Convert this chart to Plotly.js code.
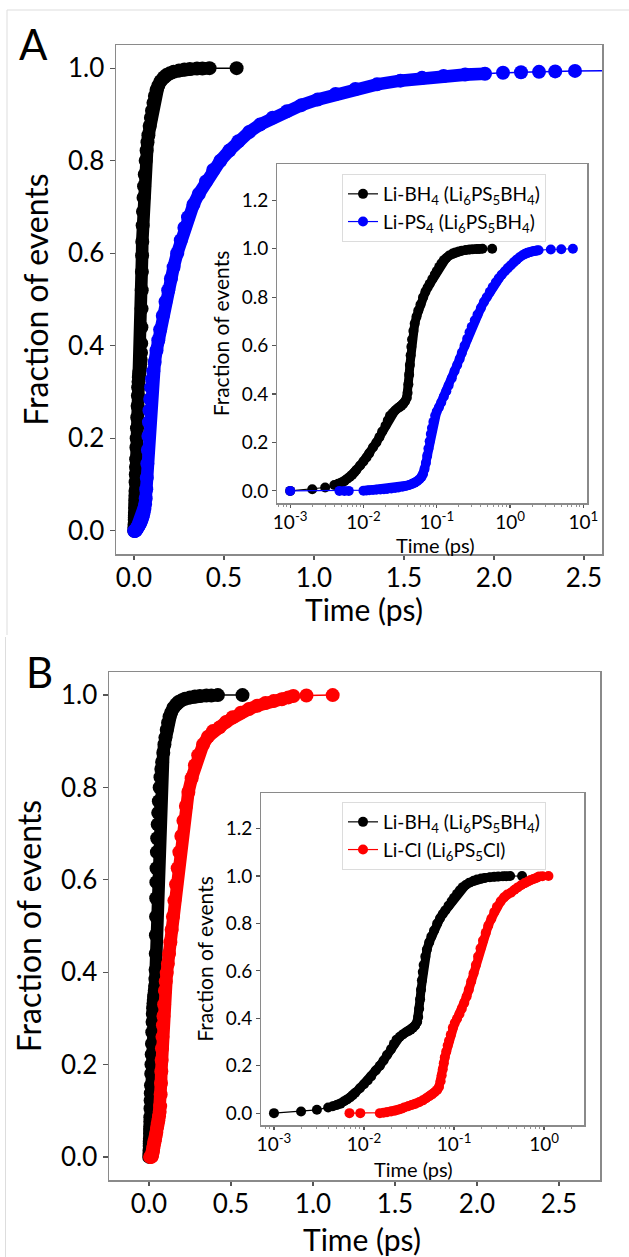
<!DOCTYPE html>
<html><head><meta charset="utf-8">
<script src="https://cdn.plot.ly/plotly-3.0.1.min.js"></script>
<style>html,body{margin:0;padding:0;background:#fff}#chart{width:629px;height:1257px}</style>
</head><body><div id="chart"></div>
<script>
// ---- data (time in ps, cumulative fraction of events) ----
const blackT = [0.001,0.002,0.003,0.004,0.0045,0.005,0.0055,0.006,0.0065,0.007,0.0075,0.008,0.009,0.010,0.011,0.012,0.0135,0.015,0.0165,0.018,0.020,0.0215,0.023,0.025,0.027,0.029,0.031,0.033,0.035,0.037,0.039,0.040,0.041,0.042,0.043,0.044,0.045,0.046,0.048,0.050,0.053,0.056,0.060,0.065,0.070,0.075,0.080,0.087,0.094,0.100,0.108,0.116,0.125,0.135,0.148,0.165,0.18,0.20,0.22,0.25,0.28,0.31,0.35,0.38,0.42,0.57];
const blackF = [0.0,0.007,0.014,0.024,0.029,0.034,0.040,0.050,0.058,0.066,0.076,0.086,0.105,0.122,0.138,0.155,0.180,0.200,0.222,0.245,0.270,0.292,0.310,0.322,0.332,0.340,0.346,0.352,0.360,0.370,0.385,0.405,0.440,0.480,0.520,0.560,0.595,0.625,0.660,0.690,0.720,0.745,0.770,0.800,0.822,0.840,0.855,0.875,0.893,0.908,0.925,0.940,0.953,0.962,0.972,0.980,0.985,0.989,0.992,0.995,0.997,0.998,0.999,0.999,1.0,1.0];

const blueT = [0.001,0.0047,0.0055,0.0063,0.0100,0.0110,0.0120,0.0135,0.015,0.017,0.019,0.021,0.024,0.027,0.030,0.034,0.038,0.042,0.046,0.050,0.054,0.058,0.062,0.065,0.068,0.071,0.074,0.077,0.080,0.083,0.086,0.090,0.095,0.100,0.107,0.115,0.125,0.135,0.145,0.16,0.175,0.19,0.205,0.22,0.24,0.26,0.28,0.30,0.33,0.36,0.40,0.44,0.48,0.53,0.58,0.64,0.70,0.77,0.85,0.93,1.02,1.12,1.23,1.35,1.48,1.60,1.72,1.84,1.95,2.05,2.15,2.25,2.34,2.45,3.6,5.0,7.2];
const blueF = [0.0,0.0,0.0,0.0,0.001,0.002,0.003,0.004,0.005,0.006,0.007,0.008,0.010,0.012,0.014,0.017,0.020,0.024,0.029,0.034,0.040,0.048,0.058,0.070,0.090,0.115,0.145,0.175,0.205,0.235,0.260,0.285,0.310,0.328,0.345,0.365,0.390,0.412,0.435,0.465,0.495,0.520,0.545,0.570,0.600,0.628,0.655,0.678,0.705,0.728,0.755,0.780,0.800,0.822,0.842,0.862,0.878,0.893,0.907,0.920,0.932,0.944,0.955,0.965,0.973,0.979,0.983,0.986,0.988,0.990,0.991,0.992,0.993,0.994,0.997,0.998,1.0];

const redT = [0.0069,0.0091,0.0150,0.0165,0.018,0.020,0.022,0.024,0.026,0.028,0.031,0.034,0.037,0.041,0.045,0.049,0.053,0.057,0.061,0.065,0.068,0.071,0.073,0.075,0.077,0.079,0.082,0.085,0.088,0.092,0.097,0.102,0.108,0.115,0.122,0.130,0.138,0.146,0.155,0.165,0.175,0.185,0.197,0.21,0.225,0.24,0.26,0.28,0.30,0.33,0.36,0.39,0.43,0.47,0.51,0.56,0.61,0.66,0.71,0.76,0.81,0.85,0.88,0.96,1.12];
const redF = [0.0,0.0,0.0,0.002,0.004,0.007,0.010,0.014,0.019,0.024,0.029,0.034,0.039,0.046,0.054,0.063,0.071,0.079,0.088,0.098,0.110,0.135,0.160,0.185,0.210,0.235,0.260,0.285,0.305,0.330,0.360,0.380,0.398,0.418,0.440,0.465,0.492,0.520,0.555,0.590,0.625,0.660,0.695,0.728,0.760,0.790,0.820,0.848,0.870,0.893,0.910,0.922,0.930,0.942,0.952,0.962,0.970,0.977,0.983,0.987,0.991,0.995,0.998,0.999,1.0];

const mainYTicks = [0,0.2,0.4,0.6,0.8,1.0];
const mainYTickText = ['0.0','0.2','0.4','0.6','0.8','1.0'];
const mainXTicks = [0,0.5,1,1.5,2,2.5];
const mainXTickText = ['0.0','0.5','1.0','1.5','2.0','2.5'];
const insetYTicks = [0,0.2,0.4,0.6,0.8,1.0,1.2];
const insetYTickText = ['0.0','0.2','0.4','0.6','0.8','1.0','1.2'];
const insetXTicksA = [0.001,0.01,0.1,1,10];
const insetXTickTextA = ['10<sup>-3</sup>','10<sup>-2</sup>','10<sup>-1</sup>','10<sup>0</sup>','10<sup>1</sup>'];
const insetXTicksB = [0.001,0.01,0.1,1];
const insetXTickTextB = ['10<sup>-3</sup>','10<sup>-2</sup>','10<sup>-1</sup>','10<sup>0</sup>'];

const nameBH4 = 'Li-BH<sub>4</sub> (Li<sub>6</sub>PS<sub>5</sub>BH<sub>4</sub>)';
const namePS4 = 'Li-PS<sub>4</sub> (Li<sub>6</sub>PS<sub>5</sub>BH<sub>4</sub>)';
const nameCl  = 'Li-Cl (Li<sub>6</sub>PS<sub>5</sub>Cl)';
const xTitle = 'Time (ps)';
const yTitle = 'Fraction of events';

// ---- drawing ----
const W = 629, H = 1257;
const px = v => v / W, py = v => 1 - v / H;
const FONT = 'Lato, "Noto Sans", sans-serif';
const FRAME = '#8a8a8a';
const MAIN_MS = 14, INSET_MS = 10;

function series(t, f, color, xa, ya, size, lw, dense, name, legend, showLegend) {
  const i0 = t.indexOf(dense[0]), i1 = t.indexOf(dense[1]);
  return [
    {x: t.slice(i0, i1 + 1), y: f.slice(i0, i1 + 1), xaxis: xa, yaxis: ya, mode: 'lines',
     line: {color: color, width: size * 0.9}, showlegend: false, hoverinfo: 'skip'},
    {x: t, y: f, xaxis: xa, yaxis: ya, mode: 'lines+markers', name: name,
     legend: legend, showlegend: showLegend,
     line: {color: color, width: lw}, marker: {color: color, size: size, line: {width: 0}}}
  ];
}

const traces = [].concat(
  series(blackT, blackF, '#000000', 'x', 'y', MAIN_MS, 1.5, [0.0045, 0.42], nameBH4, 'legend', false),
  series(blueT, blueF, '#0000ff', 'x', 'y', MAIN_MS, 1.5, [0.0100, 1.95], namePS4, 'legend', false),
  series(blackT, blackF, '#000000', 'x2', 'y2', INSET_MS, 1.2, [0.0045, 0.42], nameBH4, 'legend', true),
  series(blueT, blueF, '#0000ff', 'x2', 'y2', INSET_MS, 1.2, [0.0100, 1.95], namePS4, 'legend', true),
  series(blackT, blackF, '#000000', 'x3', 'y3', MAIN_MS, 1.5, [0.0045, 0.42], nameBH4, 'legend2', false),
  series(redT, redF, '#ff0000', 'x3', 'y3', MAIN_MS, 1.5, [0.0165, 0.88], nameCl, 'legend2', false),
  series(blackT, blackF, '#000000', 'x4', 'y4', INSET_MS, 1.2, [0.0045, 0.42], nameBH4, 'legend2', true),
  series(redT, redF, '#ff0000', 'x4', 'y4', INSET_MS, 1.2, [0.0165, 0.88], nameCl, 'legend2', true)
);

function axis(extra, tickSize, titleSize) {
  const a = Object.assign({
    showline: true, mirror: true, linecolor: FRAME, linewidth: 1.5,
    ticks: 'outside', ticklen: 5, tickwidth: 1.2, tickcolor: '#555',
    showgrid: false, zeroline: false, tickmode: 'array',
    tickfont: {size: tickSize, color: '#000'}
  }, extra);
  if (extra.title) a.title = Object.assign({font: {size: titleSize, color: '#000'}}, extra.title);
  return a;
}

const minorLog = {ticks: 'outside', ticklen: 2.5, tickwidth: 0.8, tickcolor: '#777', dtick: 'D1', showgrid: false};

function label(text, x, y, size, extra) {
  return Object.assign({text: text, xref: 'paper', yref: 'paper', x: px(x), y: py(y),
    xanchor: 'center', yanchor: 'middle', showarrow: false, font: {size: size, color: '#000'}}, extra || {});
}

const layout = {
  width: W, height: H, margin: {l: 0, r: 0, t: 0, b: 0},
  paper_bgcolor: '#fff', plot_bgcolor: '#fff',
  font: {family: FONT, color: '#000'},
  xaxis: axis({domain: [px(116), px(602)], range: [-0.1, 2.6], anchor: 'y', ticklen: 4, ticklabelstandoff: -4,
    tickvals: mainXTicks, ticktext: mainXTickText}, 26, 32),
  yaxis: axis({domain: [py(554), py(45)], range: [-0.05, 1.05], anchor: 'x',
    tickvals: mainYTicks, ticktext: mainYTickText, title: {text: yTitle, standoff: 10}}, 26, 32),
  xaxis2: axis({type: 'log', domain: [px(277), px(587)], range: [-3.18, 1.05], anchor: 'y2', ticklen: 3.5, ticklabelstandoff: -2,
    tickvals: insetXTicksA, ticktext: insetXTickTextA, minor: minorLog}, 19, 21),
  yaxis2: axis({domain: [py(503), py(164)], range: [-0.05, 1.35], anchor: 'x2', ticklen: 3.5,
    tickvals: insetYTicks, ticktext: insetYTickText, title: {text: yTitle, standoff: 6}}, 19, 21),
  xaxis3: axis({domain: [px(109), px(600)], range: [-0.244, 2.75], anchor: 'y3', ticklen: 4, ticklabelstandoff: -4,
    tickvals: mainXTicks, ticktext: mainXTickText}, 26, 32),
  yaxis3: axis({domain: [py(1180), py(672)], range: [-0.05, 1.05], anchor: 'x3',
    tickvals: mainYTicks, ticktext: mainYTickText, title: {text: yTitle, standoff: 10}}, 26, 32),
  xaxis4: axis({type: 'log', domain: [px(261), px(584)], range: [-3.144, 0.444], anchor: 'y4', ticklen: 3.5, ticklabelstandoff: -2,
    tickvals: insetXTicksB, ticktext: insetXTickTextB, minor: minorLog}, 19, 21),
  yaxis4: axis({domain: [py(1125), py(793)], range: [-0.05, 1.35], anchor: 'x4', ticklen: 3.5,
    tickvals: insetYTicks, ticktext: insetYTickText, title: {text: yTitle, standoff: 6}}, 19, 21),
  legend: {x: px(342), y: py(174), xanchor: 'left', yanchor: 'top', bgcolor: 'rgba(255,255,255,0.85)',
    bordercolor: '#dcdcdc', borderwidth: 1, font: {size: 19, color: '#000'}, tracegroupgap: 0},
  legend2: {x: px(342), y: py(802), xanchor: 'left', yanchor: 'top', bgcolor: 'rgba(255,255,255,0.85)',
    bordercolor: '#dcdcdc', borderwidth: 1, font: {size: 19, color: '#000'}, tracegroupgap: 0},
  annotations: [
    label('A', 33, 44, 42),
    label('B', 39, 672, 42),
    label(xTitle, 364, 609, 30),
    label(xTitle, 362, 1239, 30),
    label(xTitle, 435, 545, 20),
    label(xTitle, 414, 1169, 20)
  ],
  shapes: [
    {type: 'line', xref: 'paper', yref: 'paper', x0: px(7), x1: px(629), y0: py(10), y1: py(10), line: {color: '#dddddd', width: 1}},
    {type: 'line', xref: 'paper', yref: 'paper', x0: px(7), x1: px(7), y0: py(10), y1: py(635), line: {color: '#dddddd', width: 1}},
    {type: 'line', xref: 'paper', yref: 'paper', x0: px(5.5), x1: px(5.5), y0: py(637), y1: py(1257), line: {color: '#dddddd', width: 1}}
  ],
  showlegend: true
};

Plotly.newPlot('chart', traces, layout, {staticPlot: true, displayModeBar: false});
</script></body></html>
